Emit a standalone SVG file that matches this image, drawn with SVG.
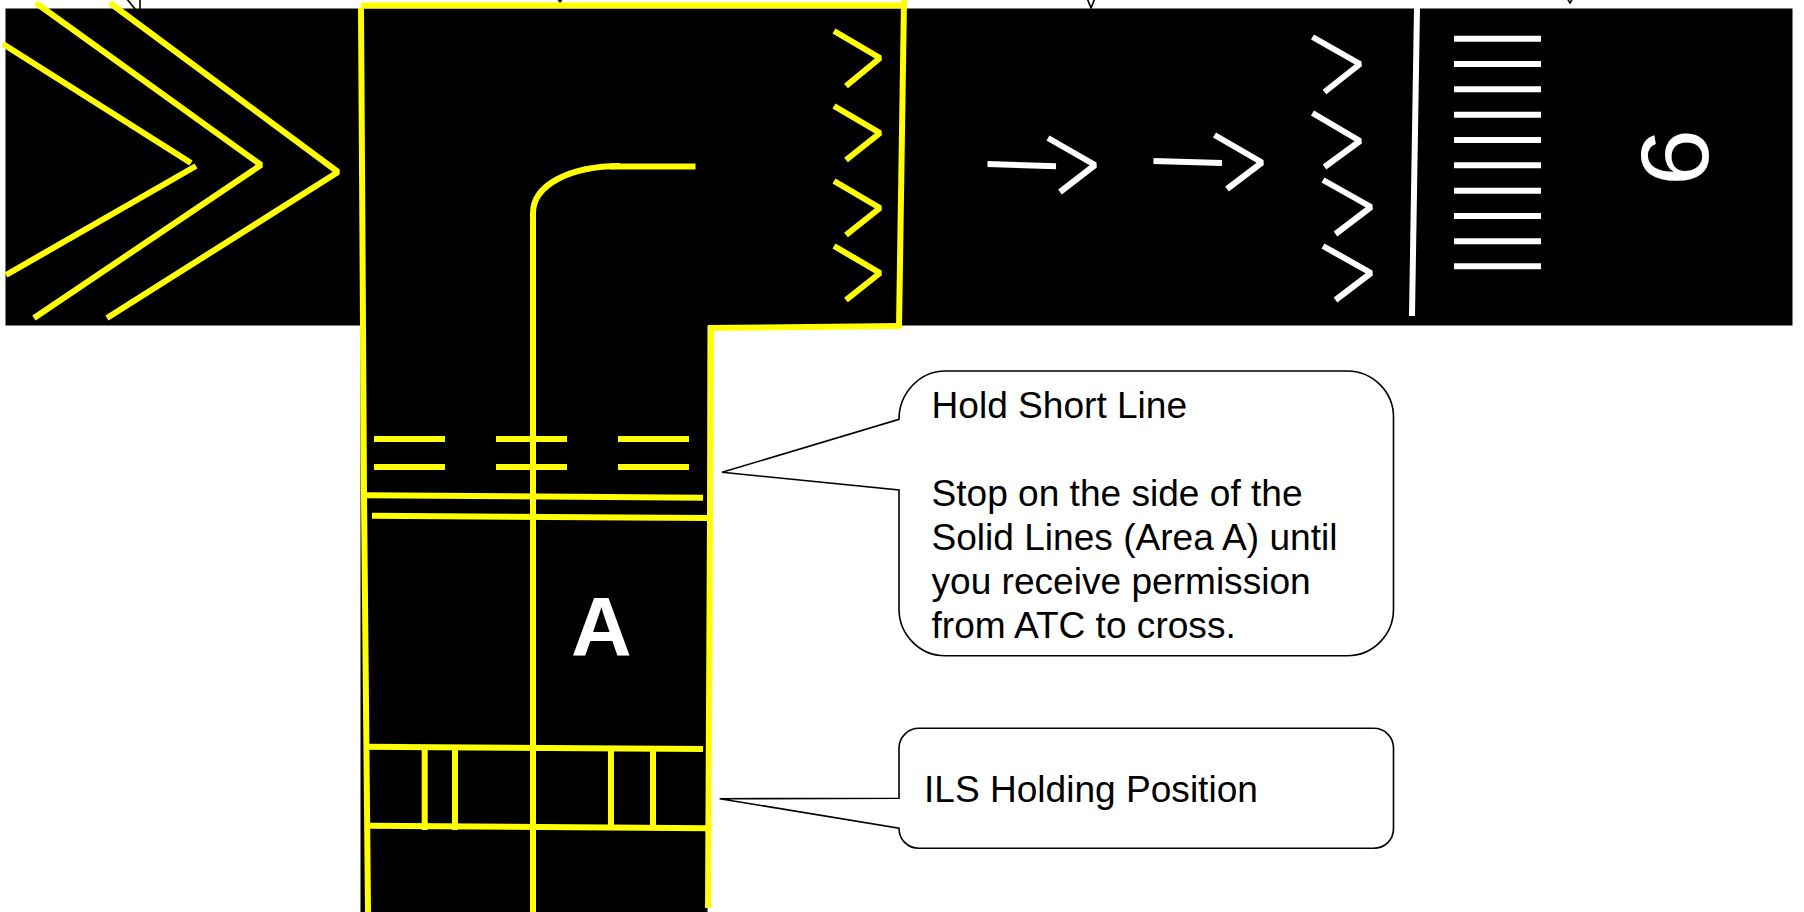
<svg xmlns="http://www.w3.org/2000/svg" width="1804" height="912" viewBox="0 0 1804 912">
<style>
.y{fill:none;stroke:#ffff00;stroke-width:6;stroke-linejoin:bevel}
.w{fill:none;stroke:#fff;stroke-width:6;stroke-linejoin:bevel}
.c{fill:#fff;stroke:#000;stroke-width:1.6}
.t{font-family:"Liberation Sans",Arial,sans-serif;font-size:37.1px;fill:#000}
.b{fill:#000}
</style>
<rect width="1804" height="912" fill="#fff"/>
<g id="stubs">
<path d="M126 -2L140 15L140 -2" fill="none" stroke="#000" stroke-width="1.6"/>
<path d="M557 -2L560 2L563 -2" fill="none" stroke="#000" stroke-width="1.6"/>
<path d="M1087 -2L1091 8L1095 -2" fill="none" stroke="#000" stroke-width="1.6"/>
<path d="M1567 -2L1570 3L1573 -2" fill="none" stroke="#000" stroke-width="1.6"/>
</g>
<g id="pavement">
<rect class="b" x="5.5" y="8.5" width="1787" height="317"/>
<rect class="b" x="360.5" y="320" width="347" height="592"/>
</g>
<g id="threshold-chevrons">
<path class="y" d="M3 44L191 163"/>
<path class="y" d="M196 166L6 275"/>
<path class="y" d="M36 3L261 165L34 318"/>
<path class="y" d="M110 3L338 172L107 318"/>
</g>
<g id="runway-edge">
<path class="y" d="M361 8L363 325L364 495L368 912"/>
<path class="y" d="M361 5.500H902"/>
<path class="y" d="M904 0L899 328"/>
<path class="y" d="M901 326L709 328"/>
<path class="y" d="M711 325L708 908"/>
</g>
<g id="taxi-centerline">
<path class="y" d="M533 912V213C533 185 570 166 620 166"/>
<path class="y" d="M610 166.500H695.500"/>
</g>
<g id="yellow-chevrons" class="y">
<path d="M834 31L880 58L846 86"/>
<path d="M834 106L880 133L846 160"/>
<path d="M834 181L880 208L846 235"/>
<path d="M834 246L880 273L846 300"/>
</g>
<g id="white-arrows" class="w">
<path d="M987.500 164L1056 166.300"/>
<path d="M1048 138L1095 165L1060 192"/>
<path d="M1153.500 161L1222 163"/>
<path d="M1214.500 135L1262 162.500L1227 189"/>
<path d="M1312.500 37L1360 64L1324.500 92"/>
<path d="M1312.500 113L1360 141L1324.500 167"/>
<path d="M1323 180L1371 207L1335.500 234"/>
<path d="M1323 246L1371 273L1335.500 300"/>
<path d="M1417 8L1412 316"/>
</g>
<g id="threshold-bars" class="w">
<path d="M1454 38.700H1541"/>
<path d="M1454 64H1541"/>
<path d="M1454 89.300H1541"/>
<path d="M1454 114.700H1541"/>
<path d="M1454 140H1541"/>
<path d="M1454 165.300H1541"/>
<path d="M1454 190.700H1541"/>
<path d="M1454 216H1541"/>
<path d="M1454 241.300H1541"/>
<path d="M1454 266.300H1541"/>
</g>
<text id="runway-number" transform="translate(1707.500 186) rotate(-90) scale(1.07 1)" font-family="Liberation Sans, Arial, sans-serif" font-size="96" fill="#fff">6</text>
<g id="hold-short" class="y">
<path d="M374 439H445M496 439H567M618 439H689"/>
<path d="M374 467H445M496 467H567M618 467H689"/>
<path d="M366 495.300L703 497.700"/>
<path d="M372 515.700L708 518"/>
</g>
<text id="area-a" x="571" y="656" font-family="Liberation Sans, Arial, sans-serif" font-size="84" font-weight="bold" fill="#fff">A</text>
<g id="ils-hold" class="y">
<path d="M364 746.700L703 749"/>
<path d="M370 825.700L707 828.300"/>
<path d="M424.700 749V830M455 749V830M611 750V830M653 750V830"/>
</g>
<g id="connectors"></g>
<g id="callout-hold-short">
<path class="c" d="M899 419.300C899 393 920 371 945 371H1347C1373 371 1393.500 392 1393.500 417V609C1393.500 635 1373 655.700 1347 655.700H945C920 655.700 899 635 899 609V490L722 472.300Z"/>
<text class="t" x="931.500" y="418">Hold Short Line</text>
<text class="t" x="931.500" y="506">Stop on the side of the</text>
<text class="t" x="931.500" y="550">Solid Lines (Area A) until</text>
<text class="t" x="931.500" y="594">you receive permission</text>
<text class="t" x="931.500" y="638">from ATC to cross.</text>
</g>
<g id="callout-ils">
<path class="c" d="M899 798.300V748.300C899 737 908 728.300 919 728.300H1373.500C1385 728.300 1393.500 737 1393.500 748.300V828.300C1393.500 840 1385 848.300 1373.500 848.300H919C908 848.300 899 840 899 828.300L719.700 798.700Z"/>
<text class="t" x="924" y="802">ILS Holding Position</text>
</g>
</svg>
